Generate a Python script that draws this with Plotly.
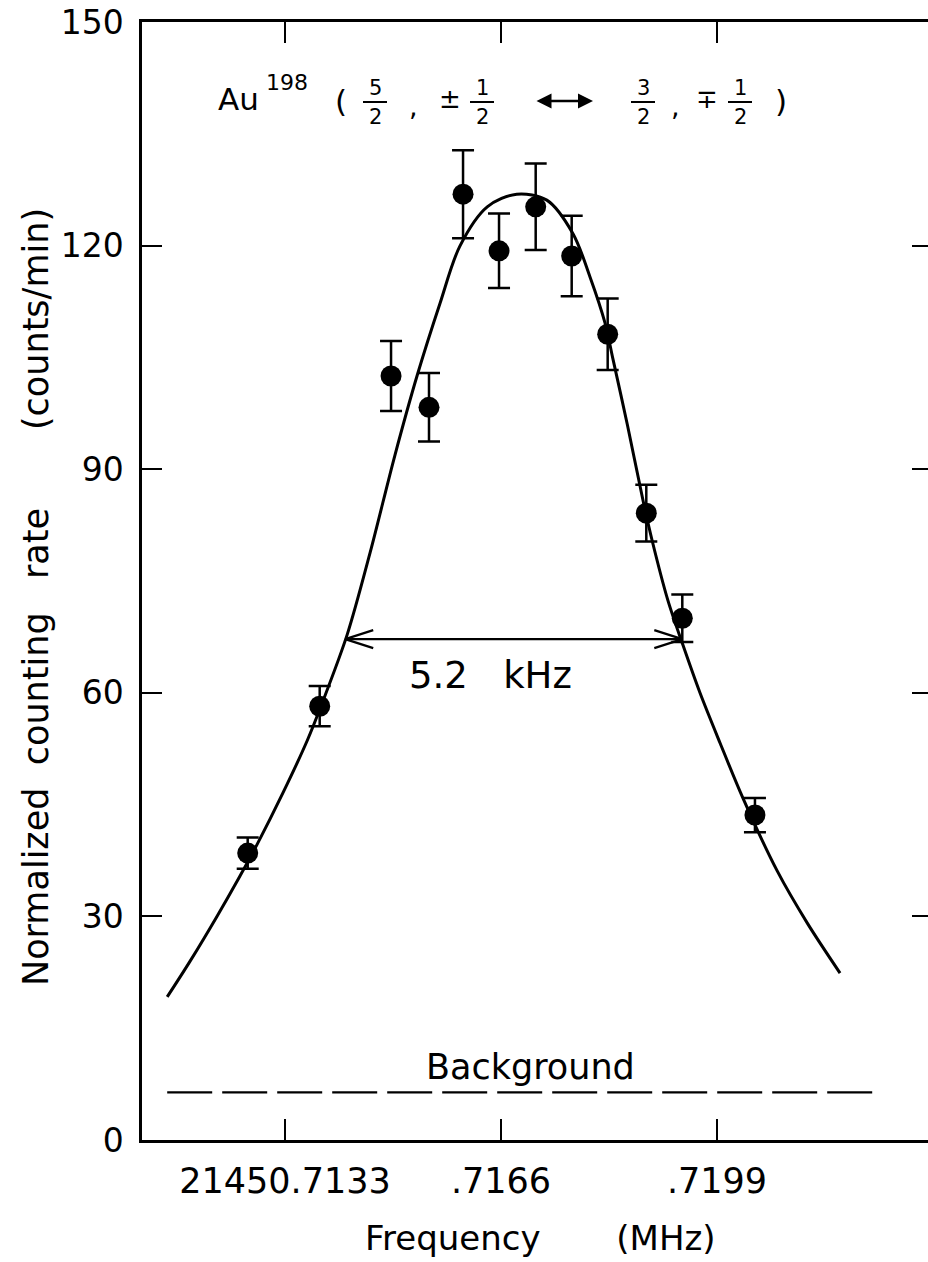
import plotly.graph_objects as go

# ---------------- data ----------------
freq_mhz = [21450.71273, 21450.71383, 21450.71492, 21450.71550, 21450.71602, 21450.71657,
            21450.71713, 21450.71768, 21450.71823, 21450.71882, 21450.71937, 21450.72048]
rate = [38.5, 58.2, 102.5, 98.3, 126.9, 119.3, 125.2, 118.6, 108.1, 84.1, 70.0, 43.6]
rate_err = [2.1, 2.7, 4.7, 4.6, 5.9, 5.0, 5.8, 5.4, 4.8, 3.8, 3.2, 2.3]

fit_freq = [21450.71150, 21450.71185, 21450.71226, 21450.71261, 21450.71287, 21450.71327,
            21450.71364, 21450.71388, 21450.71425, 21450.71460, 21450.71498, 21450.71532,
            21450.71567, 21450.71597, 21450.71639, 21450.71684, 21450.71730, 21450.71770,
            21450.71796, 21450.71819, 21450.71831, 21450.71853, 21450.71877, 21450.71891,
            21450.71915, 21450.71938, 21450.71964, 21450.71995, 21450.72030, 21450.72082,
            21450.72128, 21450.72178]
fit_rate = [19.2, 24.0, 30.0, 35.4, 39.6, 46.6, 53.6, 58.9, 67.8, 78.8, 91.9, 102.6,
            112.3, 119.9, 125.2, 126.9, 126.1, 121.6, 115.8, 109.6, 104.8, 96.0, 85.8, 80.4,
            72.4, 66.4, 60.0, 53.2, 45.8, 36.1, 29.1, 22.4]

background_level = 6.4
background_freq = [21450.71150, 21450.72239]

halfwidth_level = 67.2
halfwidth_freq = [21450.71422, 21450.71937]
halfwidth_label = "5.2\u00a0\u00a0\u00a0kHz"

x_tickvals = [21450.7133, 21450.7166, 21450.7199]
x_ticktext = ["21450.7133", ".7166", ".7199"]
y_tickvals = [0, 30, 60, 90, 120, 150]
y_ticktext = ["0", "30", "60", "90", "120", "150"]

x_title = "Frequency" + "\u00a0" * 7 + "(MHz)"
y_title = ("Normalized" + "\u00a0" * 2 + "counting" + "\u00a0" * 3 + "rate"
           + "\u00a0" * 7 + "(counts/min)")

# ---------------- layout geometry ----------------
FIG_W, FIG_H = 928, 1262
L, R, T, B = 142, 0, 22, 122
PW, PH = FIG_W - L - R, FIG_H - T - B
X_RANGE = [21450.711115, 21450.723124]
Y_RANGE = [0, 150]
FONT = "DejaVu Sans"
DX = (X_RANGE[1] - X_RANGE[0]) / PW   # data units per pixel
DY = (Y_RANGE[1] - Y_RANGE[0]) / PH


def pxp(x):
    return (x - L) / PW


def pyp(y):
    return (FIG_H - B - y) / PH


fig = go.Figure()

# background dashed line
fig.add_trace(go.Scatter(
    x=background_freq, y=[background_level] * len(background_freq), mode="lines",
    line=dict(color="black", width=2.2, dash="45px,10px"), hoverinfo="skip", showlegend=False))

# fitted curve
fig.add_trace(go.Scatter(
    x=fit_freq, y=fit_rate, mode="lines",
    line=dict(color="black", width=3, shape="spline", smoothing=0.9),
    hoverinfo="skip", showlegend=False))

# half-width double arrow (shaft + open chevron heads)
f0, f1 = halfwidth_freq
hl, hh = 28 * DX, 9 * DY
arrow_x = [f0, f1, None, f0 + hl, f0, f0 + hl, None, f1 - hl, f1, f1 - hl]
arrow_y = [halfwidth_level, halfwidth_level, None,
           halfwidth_level + hh, halfwidth_level, halfwidth_level - hh, None,
           halfwidth_level + hh, halfwidth_level, halfwidth_level - hh]
fig.add_trace(go.Scatter(x=arrow_x, y=arrow_y, mode="lines",
                         line=dict(color="black", width=2.2), hoverinfo="skip", showlegend=False))

# data points with error bars
fig.add_trace(go.Scatter(
    x=freq_mhz, y=rate, mode="markers",
    marker=dict(color="black", size=21, line=dict(width=0)),
    error_y=dict(type="data", array=rate_err, visible=True, color="black", thickness=2.5, width=11),
    showlegend=False))

# right-side ticks (no spine)
fig.add_trace(go.Scatter(x=[X_RANGE[0]], y=[0], yaxis="y2", mode="markers",
                         marker=dict(opacity=0), hoverinfo="skip", showlegend=False))

annotations = []
shapes = []


def txt(x, y, s, size, angle=0):
    annotations.append(dict(x=pxp(x), y=pyp(y), xref="paper", yref="paper", text=s,
                            xanchor="center", yanchor="middle", textangle=angle,
                            showarrow=False, font=dict(family=FONT, size=size, color="black")))


txt(490, 675, halfwidth_label, 37)
txt(530, 1067, "Background", 35)
txt(540, 1238, x_title, 34)
txt(36, 597, y_title, 35, angle=-90)


# title: Au198 ( 5/2 , ±1/2 <-> 3/2 , ∓1/2 )
def frac(x, num, den):
    txt(x, 88, num, 21)
    txt(x, 117, den, 21)
    shapes.append(dict(type="line", xref="paper", yref="paper",
                       x0=pxp(x - 12), x1=pxp(x + 12), y0=pyp(102), y1=pyp(102),
                       line=dict(color="black", width=2)))


txt(238, 99, "Au", 31)
txt(287, 82, "198", 22)
txt(341, 101, "(", 31)
frac(375, "5", "2")
txt(413, 106, ",", 27)
txt(450, 99, "±", 26)
frac(482, "1", "2")
annotations.append(dict(x=pxp(593), y=pyp(101), xref="paper", yref="paper", ax=-58, ay=0,
                        text="", showarrow=True, arrowside="end+start", arrowhead=2,
                        startarrowhead=2, arrowsize=1.2, startarrowsize=1.2,
                        arrowwidth=2.5, arrowcolor="black"))
frac(643, "3", "2")
txt(675, 106, ",", 27)
txt(707, 99, "∓", 26)
frac(740, "1", "2")
txt(781, 101, ")", 31)

fig.update_layout(
    width=FIG_W, height=FIG_H,
    margin=dict(l=L, r=R, t=T, b=B, pad=0),
    paper_bgcolor="white", plot_bgcolor="white",
    showlegend=False, hovermode=False,
    font=dict(family=FONT, color="black"),
    xaxis=dict(range=X_RANGE, tickvals=x_tickvals, ticktext=x_ticktext,
               ticks="inside", ticklen=21, tickwidth=2, tickcolor="black",
               showline=True, linecolor="black", linewidth=2.5, mirror="ticks",
               showgrid=False, zeroline=False,
               tickfont=dict(family=FONT, size=35, color="black"), ticklabelstandoff=8),
    yaxis=dict(range=Y_RANGE, tickvals=y_tickvals, ticktext=y_ticktext,
               ticks="inside", ticklen=20, tickwidth=2, tickcolor="black",
               showline=True, linecolor="black", linewidth=2.5, mirror=False,
               showgrid=False, zeroline=False,
               tickfont=dict(family=FONT, size=33, color="black"), ticklabelstandoff=9),
    yaxis2=dict(range=Y_RANGE, overlaying="y", side="right", tickvals=y_tickvals[1:-1],
                ticks="inside", ticklen=16, tickwidth=2, tickcolor="black",
                showticklabels=False, showline=False, showgrid=False, zeroline=False),
    annotations=annotations, shapes=shapes,
)

fig.write_html("out.html")
